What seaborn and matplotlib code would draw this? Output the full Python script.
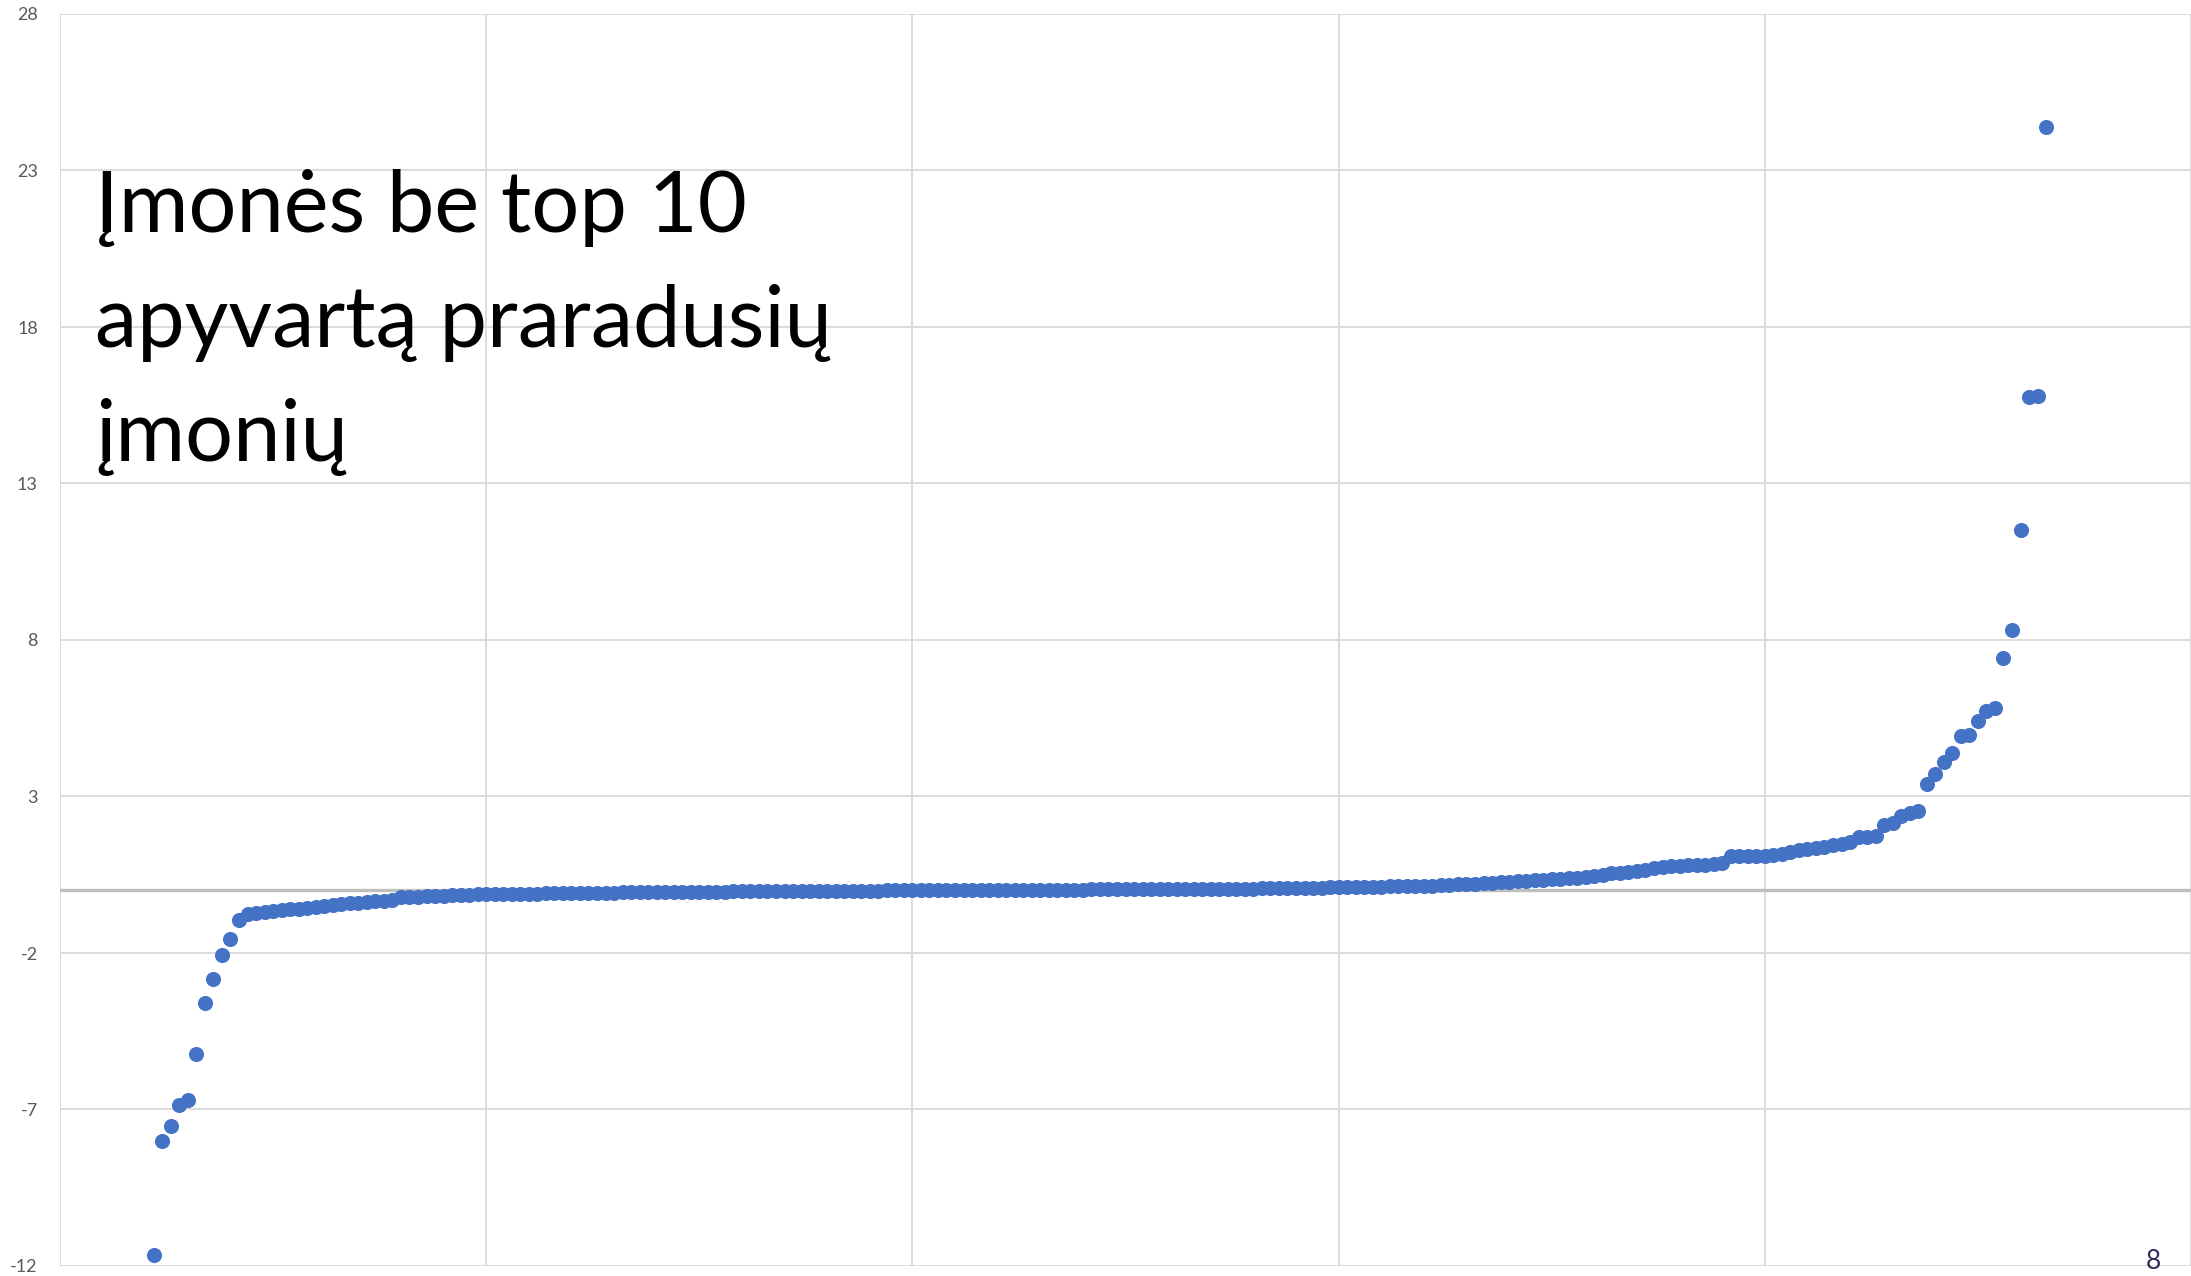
import numpy as np
import pandas as pd
import matplotlib
matplotlib.use("Agg")
import matplotlib.pyplot as plt
import seaborn as sns

# ---- data (sorted values, ranks start after the removed top 10) ----
first_rank = 11
values = [
    -11.66, -8.02, -7.53, -6.87, -6.69, -5.23, -3.60, -2.83, -2.05, -1.54,          # 11-20
    -0.95, -0.76, -0.72, -0.70, -0.67, -0.64, -0.61, -0.58, -0.55, -0.52,           # 21-30
    -0.49, -0.46, -0.43, -0.41, -0.39, -0.37, -0.35, -0.33, -0.31, -0.22,           # 31-40
    -0.21, -0.20, -0.19, -0.18, -0.17, -0.16, -0.15, -0.14, -0.13, -0.13,           # 41-50
    -0.12, -0.12, -0.11, -0.11, -0.10, -0.10, -0.09, -0.09, -0.09, -0.08,           # 51-60
    -0.08, -0.08, -0.07, -0.07, -0.07, -0.06, -0.06, -0.06, -0.06, -0.05,           # 61-70
    -0.05, -0.05, -0.05, -0.04, -0.04, -0.04, -0.04, -0.04, -0.03, -0.03,           # 71-80
    -0.03, -0.03, -0.03, -0.02, -0.02, -0.02, -0.02, -0.02, -0.02, -0.01,           # 81-90
    -0.01, -0.01, -0.01, -0.01, -0.01, -0.01, 0.00, 0.00, 0.00, 0.00,               # 91-100
    0.00, 0.00, 0.00, 0.00, 0.00, 0.00, 0.00, 0.01, 0.01, 0.01,                     # 101-110
    0.01, 0.01, 0.01, 0.01, 0.02, 0.02, 0.02, 0.02, 0.02, 0.02,                     # 111-120
    0.03, 0.03, 0.03, 0.03, 0.03, 0.03, 0.04, 0.04, 0.04, 0.04,                     # 121-130
    0.04, 0.04, 0.05, 0.05, 0.05, 0.05, 0.05, 0.06, 0.06, 0.06,                     # 131-140
    0.07, 0.07, 0.07, 0.08, 0.08, 0.08, 0.09, 0.09, 0.10, 0.10,                     # 141-150
    0.10, 0.11, 0.11, 0.12, 0.12, 0.13, 0.13, 0.14, 0.14, 0.15,                     # 151-160
    0.15, 0.16, 0.17, 0.19, 0.20, 0.22, 0.23, 0.24, 0.26, 0.27,                     # 161-170
    0.29, 0.31, 0.33, 0.34, 0.36, 0.37, 0.39, 0.41, 0.43, 0.45,                     # 171-180
    0.50, 0.54, 0.57, 0.59, 0.62, 0.65, 0.70, 0.76, 0.78, 0.79,                     # 181-190
    0.80, 0.81, 0.82, 0.84, 0.86, 1.10, 1.10, 1.10, 1.11, 1.11,                     # 191-200
    1.13, 1.17, 1.22, 1.29, 1.32, 1.35, 1.38, 1.45, 1.48, 1.56,                     # 201-210
    1.70, 1.72, 1.75, 2.09, 2.14, 2.39, 2.46, 2.54, 3.39, 3.71,                     # 211-220
    4.11, 4.40, 4.93, 4.95, 5.41, 5.74, 5.84, 7.42, 8.33, 11.5,                     # 221-230
    15.75, 15.81, 24.4,                                                             # 231-233
]
ranks = list(range(first_rank, first_rank + len(values)))

y_ticks = [-12, -7, -2, 3, 8, 13, 18, 23, 28]
x_ticks = [0, 50, 100, 150, 200, 250]
title_lines = ["Įmonės be top 10", "apyvartą praradusių", "įmonių"]
page_number = "8"

df = pd.DataFrame({"rank": ranks, "value": values})

# ---- figure ----
sns.set_theme(style="white")
plt.rcParams["font.family"] = ["Lato", "DejaVu Sans"]

W, H = 2191, 1276
fig = plt.figure(figsize=(W / 100, H / 100), dpi=100)
ax = fig.add_axes([60 / W, 1 - 1266 / H, (W - 60) / W, (1266 - 14) / H])

ax.set_xlim(0, 250)
ax.set_ylim(-12, 28)
ax.set_xticks(x_ticks)
ax.set_yticks(y_ticks)
ax.set_xticklabels([])
ax.set_yticklabels([str(t) for t in y_ticks], fontsize=13, color="#595959")
ax.tick_params(axis="both", length=0)
ax.tick_params(axis="y", pad=16)

ax.grid(True, color="#D9D9D9", linewidth=1.3, zorder=0)
ax.set_axisbelow(True)
for s in ax.spines.values():
    s.set_visible(False)

ax.axhline(0, color="#BFBFBF", linewidth=2.4, zorder=1)

sns.scatterplot(data=df, x="rank", y="value", ax=ax, color="#4472C4",
                s=118, linewidth=0, zorder=3, legend=False, clip_on=False)
ax.set_xlabel("")
ax.set_ylabel("")

baselines = [232, 347, 461]
for line, b in zip(title_lines, baselines):
    fig.text(95 / W, 1 - b / H, line, fontsize=61, fontweight="normal",
             color="#000000", ha="left", va="baseline")

fig.text(2153 / W, 1 - 1269 / H, page_number, fontsize=19, color="#2E2B5F",
         ha="center", va="baseline")

fig.savefig("out.png", dpi=100)
